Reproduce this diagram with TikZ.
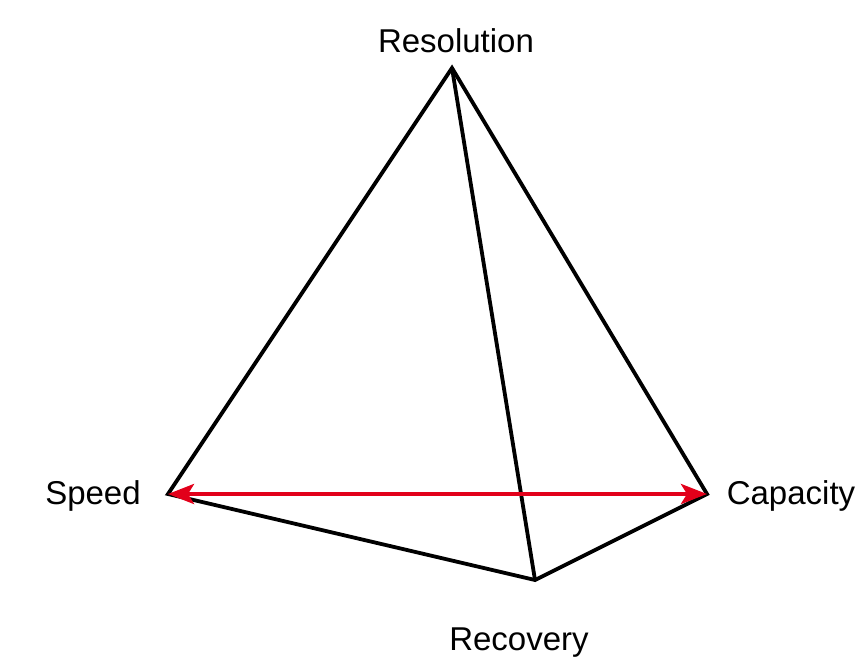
\documentclass[tikz,border=0pt]{standalone}
\usepackage{fontspec}
\setmainfont{Liberation Sans}
\usetikzlibrary{arrows.meta}
\definecolor{arrowred}{HTML}{E2001A}
\begin{document}
\begin{tikzpicture}[x=1pt,y=-1pt,
  edge/.style={draw=black,line width=3.8pt,line join=miter},
  redarrow/.style={draw=arrowred,line width=4pt,{Stealth[length=26pt,width=20pt,inset=6pt]}-{Stealth[length=26pt,width=20pt,inset=6pt]}},
  lbl/.style={font=\fontsize{33}{40}\selectfont,inner sep=0pt}]
\useasboundingbox (0,0) rectangle (857,658);
\coordinate (res) at (452,68);
\coordinate (spd) at (168,494);
\coordinate (cap) at (707,494);
\coordinate (rec) at (535,580);
\draw[edge] (spd) -- (res) -- (cap) -- (rec) -- cycle;
\draw[edge] (res) -- (rec);
\draw[redarrow] (spd) -- (cap);
\node[lbl] (lres) at (456,41) {Resolution};
\node[lbl] (lspd) at (93,496) {Speed};
\node[lbl] (lcap) at (791,496) {Capacity};
\node[lbl] (lrec) at (519,643) {Recovery};
\end{tikzpicture}
\end{document}
